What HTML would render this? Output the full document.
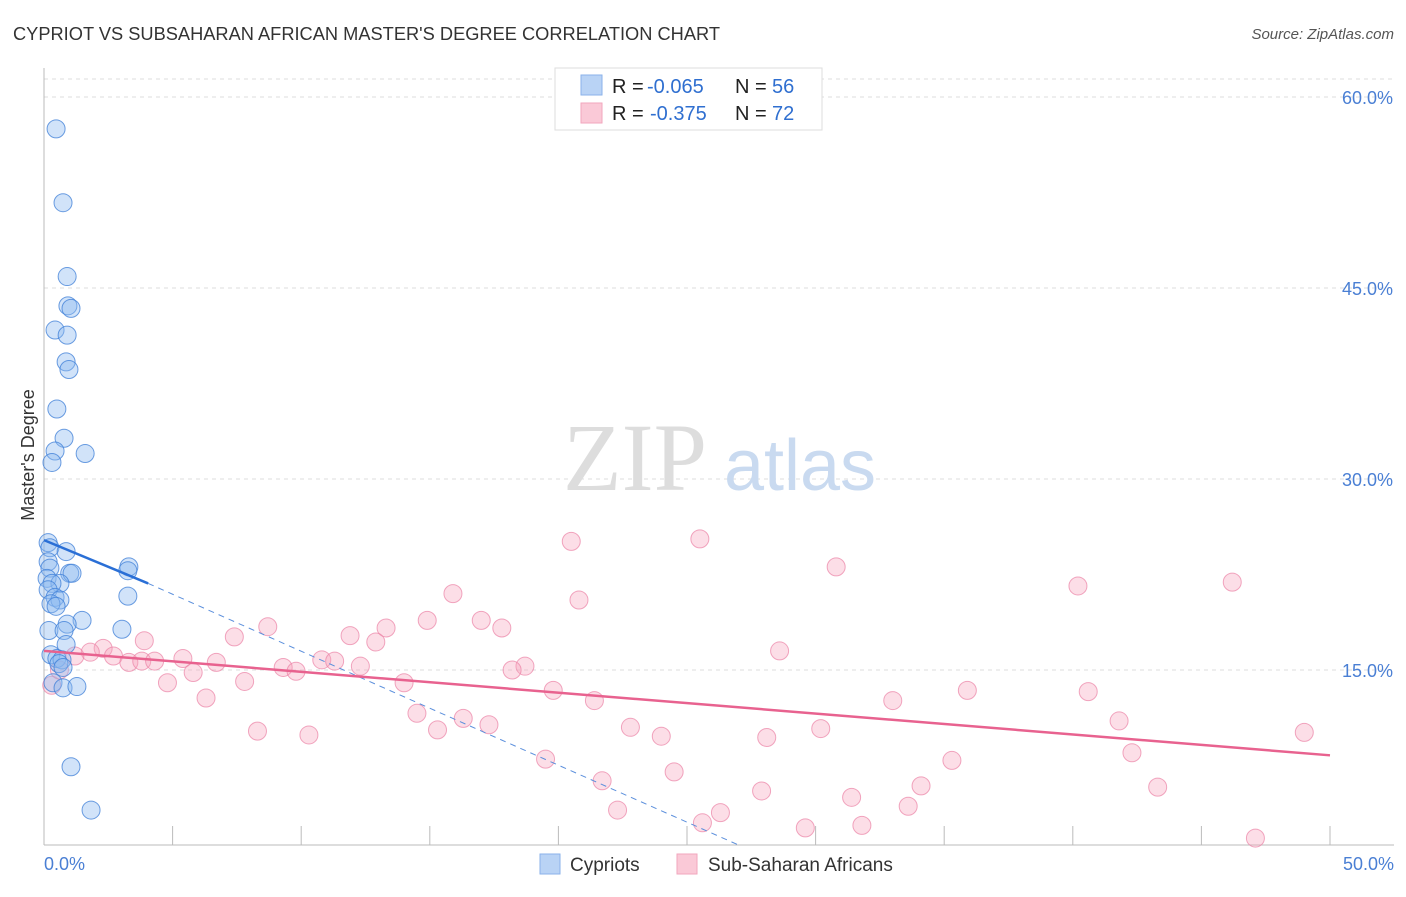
<!DOCTYPE html>
<html><head><meta charset="utf-8"><style>
body{margin:0;background:#fff;font-family:"Liberation Sans",sans-serif;}
</style></head><body>
<svg width="1406" height="892" xmlns="http://www.w3.org/2000/svg">
<text x="13" y="40" font-size="18" fill="#333" textLength="707" lengthAdjust="spacingAndGlyphs">CYPRIOT VS SUBSAHARAN AFRICAN MASTER'S DEGREE CORRELATION CHART</text>
<text x="1394" y="39" font-size="15" fill="#555" font-style="italic" text-anchor="end">Source: ZipAtlas.com</text>
<g id="grid"></g>
<text x="635" y="490" font-size="96" fill="#ddd" font-family="Liberation Serif,serif" text-anchor="middle">ZIP</text>
<text x="800" y="490" font-size="72" fill="#c9daf0" text-anchor="middle">atlas</text>
<line x1="44" y1="68" x2="44" y2="845" stroke="#bbb"/>
<line x1="44" y1="845" x2="1394" y2="845" stroke="#bbb"/>
<text x="34" y="455" font-size="18" fill="#333" transform="rotate(-90 34 455)" text-anchor="middle">Master's Degree</text>
<text x="44" y="870" font-size="18" fill="#4a7fd4">0.0%</text>
<text x="1394" y="870" font-size="18" fill="#4a7fd4" text-anchor="end">50.0%</text>
<g id="pts"></g>
<g id="lines"></g>
<g>
<rect x="555" y="68" width="267" height="62" fill="#fff" stroke="#ddd"/>
<rect x="581" y="75" width="21" height="20" fill="#b9d3f5" stroke="#8ab2ea"/>
<rect x="581" y="103" width="21" height="20" fill="#fac9d7" stroke="#f2a6bd"/>
<text x="612" y="93" font-size="20" fill="#222">R =<tspan fill="#2f6fd0" x="647">-0.065</tspan><tspan x="735">N = </tspan><tspan fill="#2f6fd0" x="772">56</tspan></text>
<text x="612" y="120" font-size="20" fill="#222">R =<tspan fill="#2f6fd0" x="650">-0.375</tspan><tspan x="735">N = </tspan><tspan fill="#2f6fd0" x="772">72</tspan></text>
</g>
<g>
<rect x="540" y="854" width="20" height="20" fill="#b9d3f5" stroke="#8ab2ea"/>
<text x="570" y="871" font-size="19" fill="#333">Cypriots</text>
<rect x="677" y="854" width="20" height="20" fill="#fac9d7" stroke="#f2a6bd"/>
<text x="708" y="871" font-size="19" fill="#333">Sub-Saharan Africans</text>
</g>
</svg>
<script>
const yTicks=[15,30,45,60];
const xTicks=[5,10,15,20,25,30,35,40,45,50];
const blueX=[0.47,0.74,0.9,0.93,1.05,0.43,0.9,0.86,0.97,0.5,0.78,0.43,0.31,1.6,0.16,0.23,0.86,0.16,0.23,3.3,3.26,1.0,1.09,0.12,0.62,0.31,0.16,3.26,0.43,0.62,0.27,0.47,1.48,0.9,3.03,0.19,0.78,0.86,0.27,0.5,0.7,0.58,0.74,0.35,0.74,1.28,1.05,1.83];
const blueY=[57.5,51.7,45.9,43.6,43.4,41.7,41.3,39.2,38.6,35.5,33.2,32.2,31.3,32.0,25.0,24.6,24.3,23.5,23.0,23.1,22.8,22.6,22.6,22.2,21.8,21.8,21.3,20.8,20.7,20.5,20.2,20.0,18.9,18.6,18.2,18.1,18.1,17.0,16.2,15.9,15.8,15.5,15.2,14.0,13.6,13.7,7.4,4.0];
const pinkX=[20.5,25.5,30.8,40.2,46.2,15.9,20.8,17.0,14.9,17.8,13.3,8.7,11.9,12.9,7.4,3.9,28.6,2.3,1.8,1.2,2.7,3.3,3.8,4.3,5.4,6.7,10.8,11.3,12.3,9.3,9.8,5.8,18.7,18.2,4.8,7.8,14.0,19.8,35.9,40.6,6.3,21.4,33.0,14.5,16.3,17.3,41.8,15.3,22.8,8.3,10.3,24.0,28.1,30.2,42.3,49.0,35.3,19.5,24.5,21.7,34.1,27.9,31.4,43.3,26.3,33.6,22.3,25.6,29.6,31.8,47.1,0.3,0.6];
const pinkY=[25.1,25.3,23.1,21.6,21.9,21.0,20.5,18.9,18.9,18.3,18.3,18.4,17.7,17.2,17.6,17.3,16.5,16.7,16.4,16.1,16.1,15.6,15.7,15.7,15.9,15.6,15.8,15.7,15.3,15.2,14.9,14.8,15.3,15.0,14.0,14.1,14.0,13.4,13.4,13.3,12.8,12.6,12.6,11.6,11.2,10.7,11.0,10.3,10.5,10.2,9.9,9.8,9.7,10.4,8.5,10.1,7.9,8.0,7.0,6.3,5.9,5.5,5.0,5.8,3.8,4.3,4.0,3.0,2.6,2.8,1.8,13.8,15.0];
const blueTrend=[0,25.2,4.05,21.8,27.0,1.26];
const pinkTrend=[0,16.5,50,8.3];
const NS='http://www.w3.org/2000/svg';
const sx=v=>44+v*25.72, sy=v=>861-v*12.733;
function mk(tag,at,parent){const e=document.createElementNS(NS,tag);for(const k in at)e.setAttribute(k,at[k]);document.getElementById(parent).appendChild(e);return e;}
yTicks.forEach(t=>{
 const l=mk('line',{x1:44,x2:1394,y1:sy(t),y2:sy(t),stroke:'#ddd','stroke-dasharray':'4 4'},'grid');
 
 
 const tx=mk('text',{x:1393,y:sy(t)+7,'font-size':18,fill:'#4a7fd4','text-anchor':'end'},'grid');
 tx.textContent=t.toFixed(1)+'%';
 
 
});
mk('line',{x1:44,x2:1394,y1:79,y2:79,stroke:'#ddd','stroke-dasharray':'4 4'},'grid');
xTicks.forEach(t=>{
 const l=mk('line',{x1:sx(t),x2:sx(t),y1:826,y2:845,stroke:'#bbb'},'grid');
 
 
});
pinkX.forEach((x,i)=>{
 const c=mk('circle',{cx:sx(x),cy:sy(pinkY[i]),r:9,fill:'rgba(245,160,185,0.35)',stroke:'rgba(235,130,165,0.7)','stroke-width':1},'pts');
 
 
});
blueX.forEach((x,i)=>{
 const c=mk('circle',{cx:sx(x),cy:sy(blueY[i]),r:9,fill:'rgba(140,185,240,0.4)',stroke:'rgba(60,125,215,0.75)','stroke-width':1},'pts');
 
 
});
let b=blueTrend;
let l1=mk('line',{x1:sx(b[0]),y1:sy(b[1]),x2:sx(b[2]),y2:sy(b[3]),stroke:'#2a6fd6','stroke-width':2.5},'lines');


let l2=mk('line',{x1:sx(b[2]),y1:sy(b[3]),x2:sx(b[4]),y2:sy(b[5]),stroke:'#5b8fdc','stroke-width':1,'stroke-dasharray':'6 5'},'lines');


let p=pinkTrend;
let l3=mk('line',{x1:sx(p[0]),y1:sy(p[1]),x2:sx(p[2]),y2:sy(p[3]),stroke:'#e8628f','stroke-width':2.5},'lines');


</script>
</body></html>
